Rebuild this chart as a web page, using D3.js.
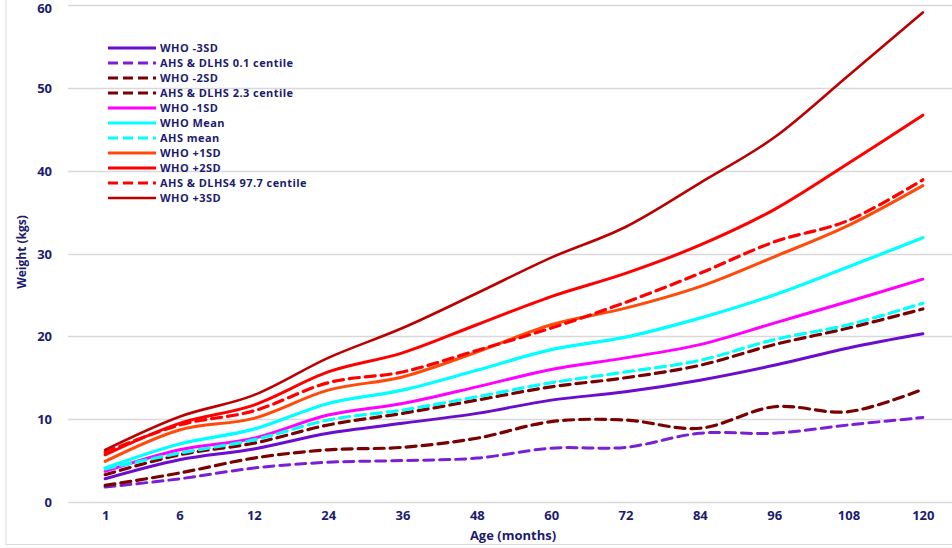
<!DOCTYPE html>
<html><head><meta charset="utf-8">
<script src="https://cdn.jsdelivr.net/npm/d3@7"></script>
<style>
html,body{margin:0;padding:0;background:#fff;}
text{font-family:"Open Sans",Lato,sans-serif;font-weight:bold;fill:#1c1c6e;}
</style></head>
<body><svg id="c" width="952" height="548"></svg>
<script>
const ages = ["1","6","12","24","36","48","60","72","84","96","108","120"];
const yTicks = [0,10,20,30,40,50,60];

const who_m3  = [2.8,5.1,6.4,8.3,9.5,10.7,12.3,13.3,14.7,16.5,18.6,20.3];
const ahs_01  = [1.8,2.8,4.1,4.8,5.0,5.3,6.5,6.6,8.3,8.3,9.3,10.2];
const who_m2  = [3.3,5.7,7.1,9.3,10.7,12.3,13.9,15.0,16.5,19.0,21.0,23.3];
const ahs_23  = [2.0,3.5,5.3,6.3,6.6,7.7,9.7,9.9,8.9,11.5,10.9,13.6];
const who_m1  = [3.7,6.3,7.7,10.5,11.9,13.9,16.0,17.4,19.0,21.6,24.2,26.9];
const who_0   = [4.1,7.0,8.8,11.9,13.5,15.9,18.4,19.9,22.2,25.0,28.4,31.9];
const ahs_0   = [4.0,5.9,7.5,9.9,11.1,12.7,14.4,15.7,17.1,19.6,21.4,24.0];
const who_p1  = [4.9,8.7,10.1,13.5,15.1,18.1,21.4,23.4,26.0,29.6,33.4,38.2];
const who_p2  = [5.7,9.5,11.7,15.7,18.0,21.4,24.8,27.6,31.0,35.3,40.9,46.7];
const ahs_977 = [6.0,9.3,11.0,14.4,15.7,18.3,21.0,24.1,27.6,31.4,34.0,38.9];
const who_p3  = [6.3,10.3,12.9,17.4,21.0,25.2,29.5,33.2,38.5,44.0,51.5,59.1];

const seriesNames = ["WHO -3SD","AHS & DLHS 0.1 centile","WHO -2SD","AHS & DLHS 2.3 centile","WHO -1SD","WHO Mean","AHS mean","WHO +1SD","WHO +2SD","AHS & DLHS4 97.7 centile","WHO +3SD"];
const seriesValues = [who_m3,ahs_01,who_m2,ahs_23,who_m1,who_0,ahs_0,who_p1,who_p2,ahs_977,who_p3];
const seriesColors = ["#6a0dcc","#7a1fd6","#7b0000","#7b0000","#ff00ff","#00ffff","#00ffff","#ff4a0a","#ff0000","#ff0000","#bb0000"];
const seriesDashed = [false,true,true,true,false,false,true,false,false,true,false];
const seriesWidths = [3,3,3.2,3.2,3,3.2,3.2,3,3,3.2,2.6];

const svg = d3.select("#c");
const L=68, R=960, T=5, B=502;

// frame
svg.append("line").attr("x1",6).attr("x2",6).attr("y1",0).attr("y2",545).attr("stroke","#d9d9d9").attr("stroke-width",1);
svg.append("line").attr("x1",6).attr("x2",952).attr("y1",544.5).attr("y2",544.5).attr("stroke","#d9d9d9").attr("stroke-width",1);

const x = d3.scalePoint().domain(ages).range([L,R]).padding(0.5);
const y = d3.scaleLinear().domain([0,60]).range([B,T]);

// gridlines
svg.append("g").selectAll("line").data(yTicks).join("line")
  .attr("x1",L).attr("x2",952).attr("y1",d=>Math.round(y(d))+0.5).attr("y2",d=>Math.round(y(d))+0.5)
  .attr("stroke","#d9d9d9").attr("stroke-width",1.3);

// y axis labels
const ya = svg.append("g").attr("transform",`translate(${L-16},0)`)
  .call(d3.axisLeft(y).tickValues(yTicks).tickSize(0).tickPadding(0));
ya.select(".domain").remove();
ya.selectAll("text").attr("font-size",13).attr("font-family","Open Sans").attr("font-weight","bold").attr("fill","#1c1c6e")
  .attr("dy",d=>d===60?"0.55em":"0.35em");

// x axis labels
const xa = svg.append("g").attr("transform",`translate(0,${B+9})`)
  .call(d3.axisBottom(x).tickSize(0).tickPadding(0));
xa.select(".domain").remove();
xa.selectAll("text").attr("font-size",13).attr("font-family","Open Sans").attr("font-weight","bold").attr("fill","#1c1c6e").attr("dy","0.71em");

// titles
svg.append("text").attr("x",513).attr("y",540).attr("text-anchor","middle").attr("font-size",13).text("Age (months)");
svg.append("text").attr("transform","translate(26,252) rotate(-90)").attr("text-anchor","middle").attr("font-size",12).text("Weight (kgs)");

// lines
const line = d3.line().x((d,i)=>x(ages[i])).y(d=>y(d)).curve(d3.curveCardinal.tension(0));
const g = svg.append("g");
seriesValues.forEach((vals,k)=>{
  g.append("path").attr("d",line(vals)).attr("fill","none")
   .attr("stroke",seriesColors[k]).attr("stroke-width",seriesWidths[k])
   .attr("stroke-linecap","round")
   .attr("stroke-dasharray",seriesDashed[k]?"10,6":null);
});

// legend
const lg = svg.append("g");
seriesNames.forEach((n,k)=>{
  const yy = 48 + k*15;
  lg.append("line").attr("x1",108).attr("x2",156).attr("y1",yy).attr("y2",yy)
    .attr("stroke",seriesColors[k]).attr("stroke-width",seriesWidths[k])
    .attr("stroke-dasharray",seriesDashed[k]?"10,5":null);
  lg.append("text").attr("x",160).attr("y",yy).attr("dy","0.35em").attr("font-size",11)
    .attr("letter-spacing","0.45px").text(n);
});
</script></body></html>
